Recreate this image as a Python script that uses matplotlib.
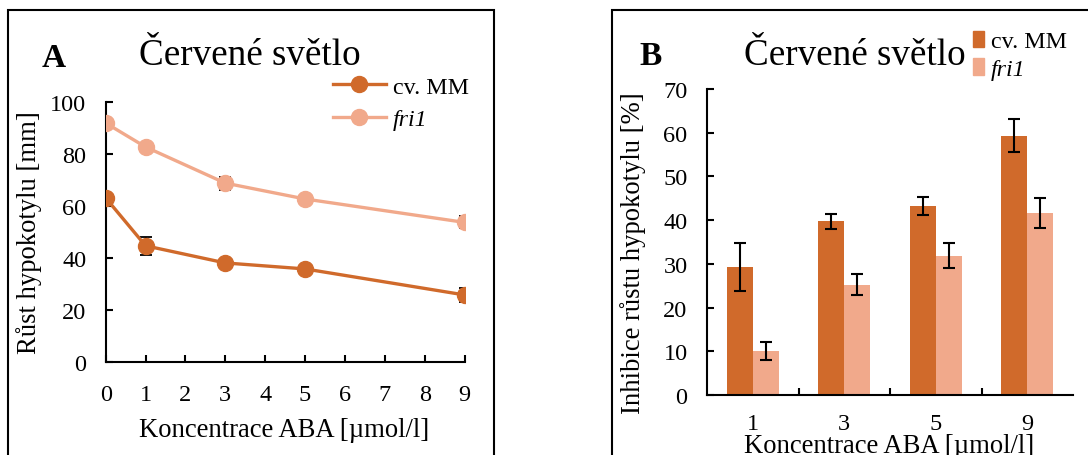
import matplotlib
matplotlib.use("Agg")
import matplotlib.pyplot as plt
from matplotlib.patches import Rectangle, Patch
from matplotlib.lines import Line2D
import numpy as np

# ---------------- data ----------------
conc_line = [0, 1, 3, 5, 9]
mm_growth = [63.1, 44.7, 38.1, 35.8, 25.8]
mm_growth_err = [1.8, 3.5, 1.0, 1.2, 2.8]
fri_growth = [91.9, 82.7, 68.8, 62.7, 53.7]
fri_growth_err = [1.5, 1.5, 2.5, 1.0, 2.3]

conc_bar = ["1", "3", "5", "9"]
mm_inhib = [29.2, 39.7, 43.3, 59.3]
mm_inhib_err = [5.5, 1.8, 2.1, 3.8]
fri_inhib = [10.1, 25.2, 31.9, 41.6]
fri_inhib_err = [2.0, 2.4, 2.9, 3.5]

series_names = ["cv. MM", "fri1"]
title_text = "Červené světlo"
xlabel_text = "Koncentrace ABA [µmol/l]"
ylabel_a = "Růst hypokotylu [mm]"
ylabel_b = "Inhibice růstu hypokotylu [%]"

DARK = "#D06A2B"
LIGHT = "#F1A98B"

plt.rcParams["font.family"] = ["Liberation Serif", "DejaVu Serif"]

W, H = 1088, 456
fig = plt.figure(figsize=(W / 100, H / 100), dpi=100)


def fx(px):
    return px / W


def fy(py):
    return 1 - py / H


# panel frames
for x0, x1 in [(7.5, 494), (612, 1200)]:
    r = Rectangle((fx(x0), fy(600)), fx(x1) - fx(x0), fy(11) - fy(600),
                  transform=fig.transFigure, fill=False, lw=1.5,
                  edgecolor="black", clip_on=False)
    fig.patches.append(r)

TICK_FS = 17.5
LABEL_FS = 19.2
LEG_FS = 17.3
TITLE_FS = 26.7

# ---------------- panel A ----------------
axA = fig.add_axes([fx(105.7), fy(363), fx(464.5) - fx(105.7), fy(103) - fy(363)])
axA.errorbar(conc_line, mm_growth, yerr=mm_growth_err, color=DARK, lw=2.4,
             marker="o", ms=11.5, ecolor="black", elinewidth=1.3, capsize=4.5,
             capthick=1.3, label=series_names[0], zorder=3)
axA.errorbar(conc_line, fri_growth, yerr=fri_growth_err, color=LIGHT, lw=2.4,
             marker="o", ms=11.5, ecolor="black", elinewidth=1.3, capsize=4.5,
             capthick=1.3, label=series_names[1], zorder=3)
axA.set_xlim(0, 9)
axA.set_ylim(0, 100)
axA.set_xticks(range(0, 10))
axA.set_yticks(range(0, 101, 20))
for s in ["top", "right"]:
    axA.spines[s].set_visible(False)
for s in ["left", "bottom"]:
    axA.spines[s].set_linewidth(1.5)
axA.tick_params(axis="y", direction="in", length=5, width=1.5, labelsize=TICK_FS, pad=14)
axA.tick_params(axis="x", direction="in", length=5, width=1.5, labelsize=TICK_FS, pad=16)
axA.set_xlabel(xlabel_text, fontsize=LABEL_FS)
axA.xaxis.label.set_va("center")
axA.xaxis.set_label_coords(0.498, -0.258)
axA.set_ylabel(ylabel_a, fontsize=LABEL_FS)
axA.yaxis.label.set_va("center")
axA.yaxis.set_label_coords((29.5 - 105.7) / 358.8, 0.5)

hA = [Line2D([], [], color=DARK, lw=2.4, marker="o", ms=11.5),
      Line2D([], [], color=LIGHT, lw=2.4, marker="o", ms=11.5)]
legA = fig.legend(hA, series_names, loc="upper left",
                  bbox_to_anchor=(fx(333), fy(77)), frameon=False,
                  fontsize=LEG_FS, handlelength=2.2, handletextpad=0.3,
                  borderpad=0, borderaxespad=0, labelspacing=0.45)
legA.get_texts()[1].set_fontstyle("italic")

fig.text(fx(41.5), fy(67), "A", fontsize=24, fontweight="bold", va="baseline", ha="left")
fig.text(fx(250), fy(65), title_text, fontsize=TITLE_FS, va="baseline", ha="center")

# ---------------- panel B ----------------
axB = fig.add_axes([fx(707), fy(396), fx(1073) - fx(707), fy(90) - fy(396)])
xpos = np.arange(len(conc_bar))
bw = 0.285
axB.bar(xpos - bw / 2, mm_inhib, width=bw, color=DARK, label=series_names[0], zorder=2)
axB.bar(xpos + bw / 2, fri_inhib, width=bw, color=LIGHT, label=series_names[1], zorder=2)
axB.errorbar(xpos - bw / 2, mm_inhib, yerr=mm_inhib_err, fmt="none", ecolor="black",
             elinewidth=1.5, capsize=4, capthick=1.5, zorder=3)
axB.errorbar(xpos + bw / 2, fri_inhib, yerr=fri_inhib_err, fmt="none", ecolor="black",
             elinewidth=1.5, capsize=4, capthick=1.5, zorder=3)
axB.set_xlim(-0.5, len(conc_bar) - 0.5)
axB.set_ylim(0, 70)
axB.set_yticks(range(0, 71, 10))
axB.set_xticks(xpos)
axB.set_xticklabels(conc_bar)
axB.set_xticks(np.arange(0.5, len(conc_bar) - 0.5, 1), minor=True)
for s in ["top", "right"]:
    axB.spines[s].set_visible(False)
for s in ["left", "bottom"]:
    axB.spines[s].set_linewidth(1.5)
axB.tick_params(axis="y", direction="in", length=5, width=1.5, labelsize=TICK_FS, pad=14)
axB.tick_params(axis="x", which="major", length=0, labelsize=TICK_FS, pad=13)
axB.tick_params(axis="x", which="minor", direction="in", length=5, width=1.5)
axB.set_xlabel(xlabel_text, fontsize=LABEL_FS)
axB.xaxis.label.set_va("center")
axB.xaxis.set_label_coords(0.497, -0.165)
axB.set_ylabel(ylabel_b, fontsize=LABEL_FS)
axB.yaxis.label.set_va("center")
axB.yaxis.set_label_coords((633 - 707) / 366, 0.467)

hB = [Patch(color=DARK), Patch(color=LIGHT)]
legB = fig.legend(hB, series_names, loc="upper left",
                  bbox_to_anchor=(fx(973), fy(32)), frameon=False,
                  fontsize=LEG_FS, handlelength=0.45, handleheight=0.65,
                  handletextpad=0.3, borderpad=0, borderaxespad=0, labelspacing=0.25)
legB.get_texts()[1].set_fontstyle("italic")

fig.text(fx(639), fy(65), "B", fontsize=24, fontweight="bold", va="baseline", ha="left")
fig.text(fx(855), fy(65), title_text, fontsize=TITLE_FS, va="baseline", ha="center")

fig.savefig("out.png", dpi=100)
